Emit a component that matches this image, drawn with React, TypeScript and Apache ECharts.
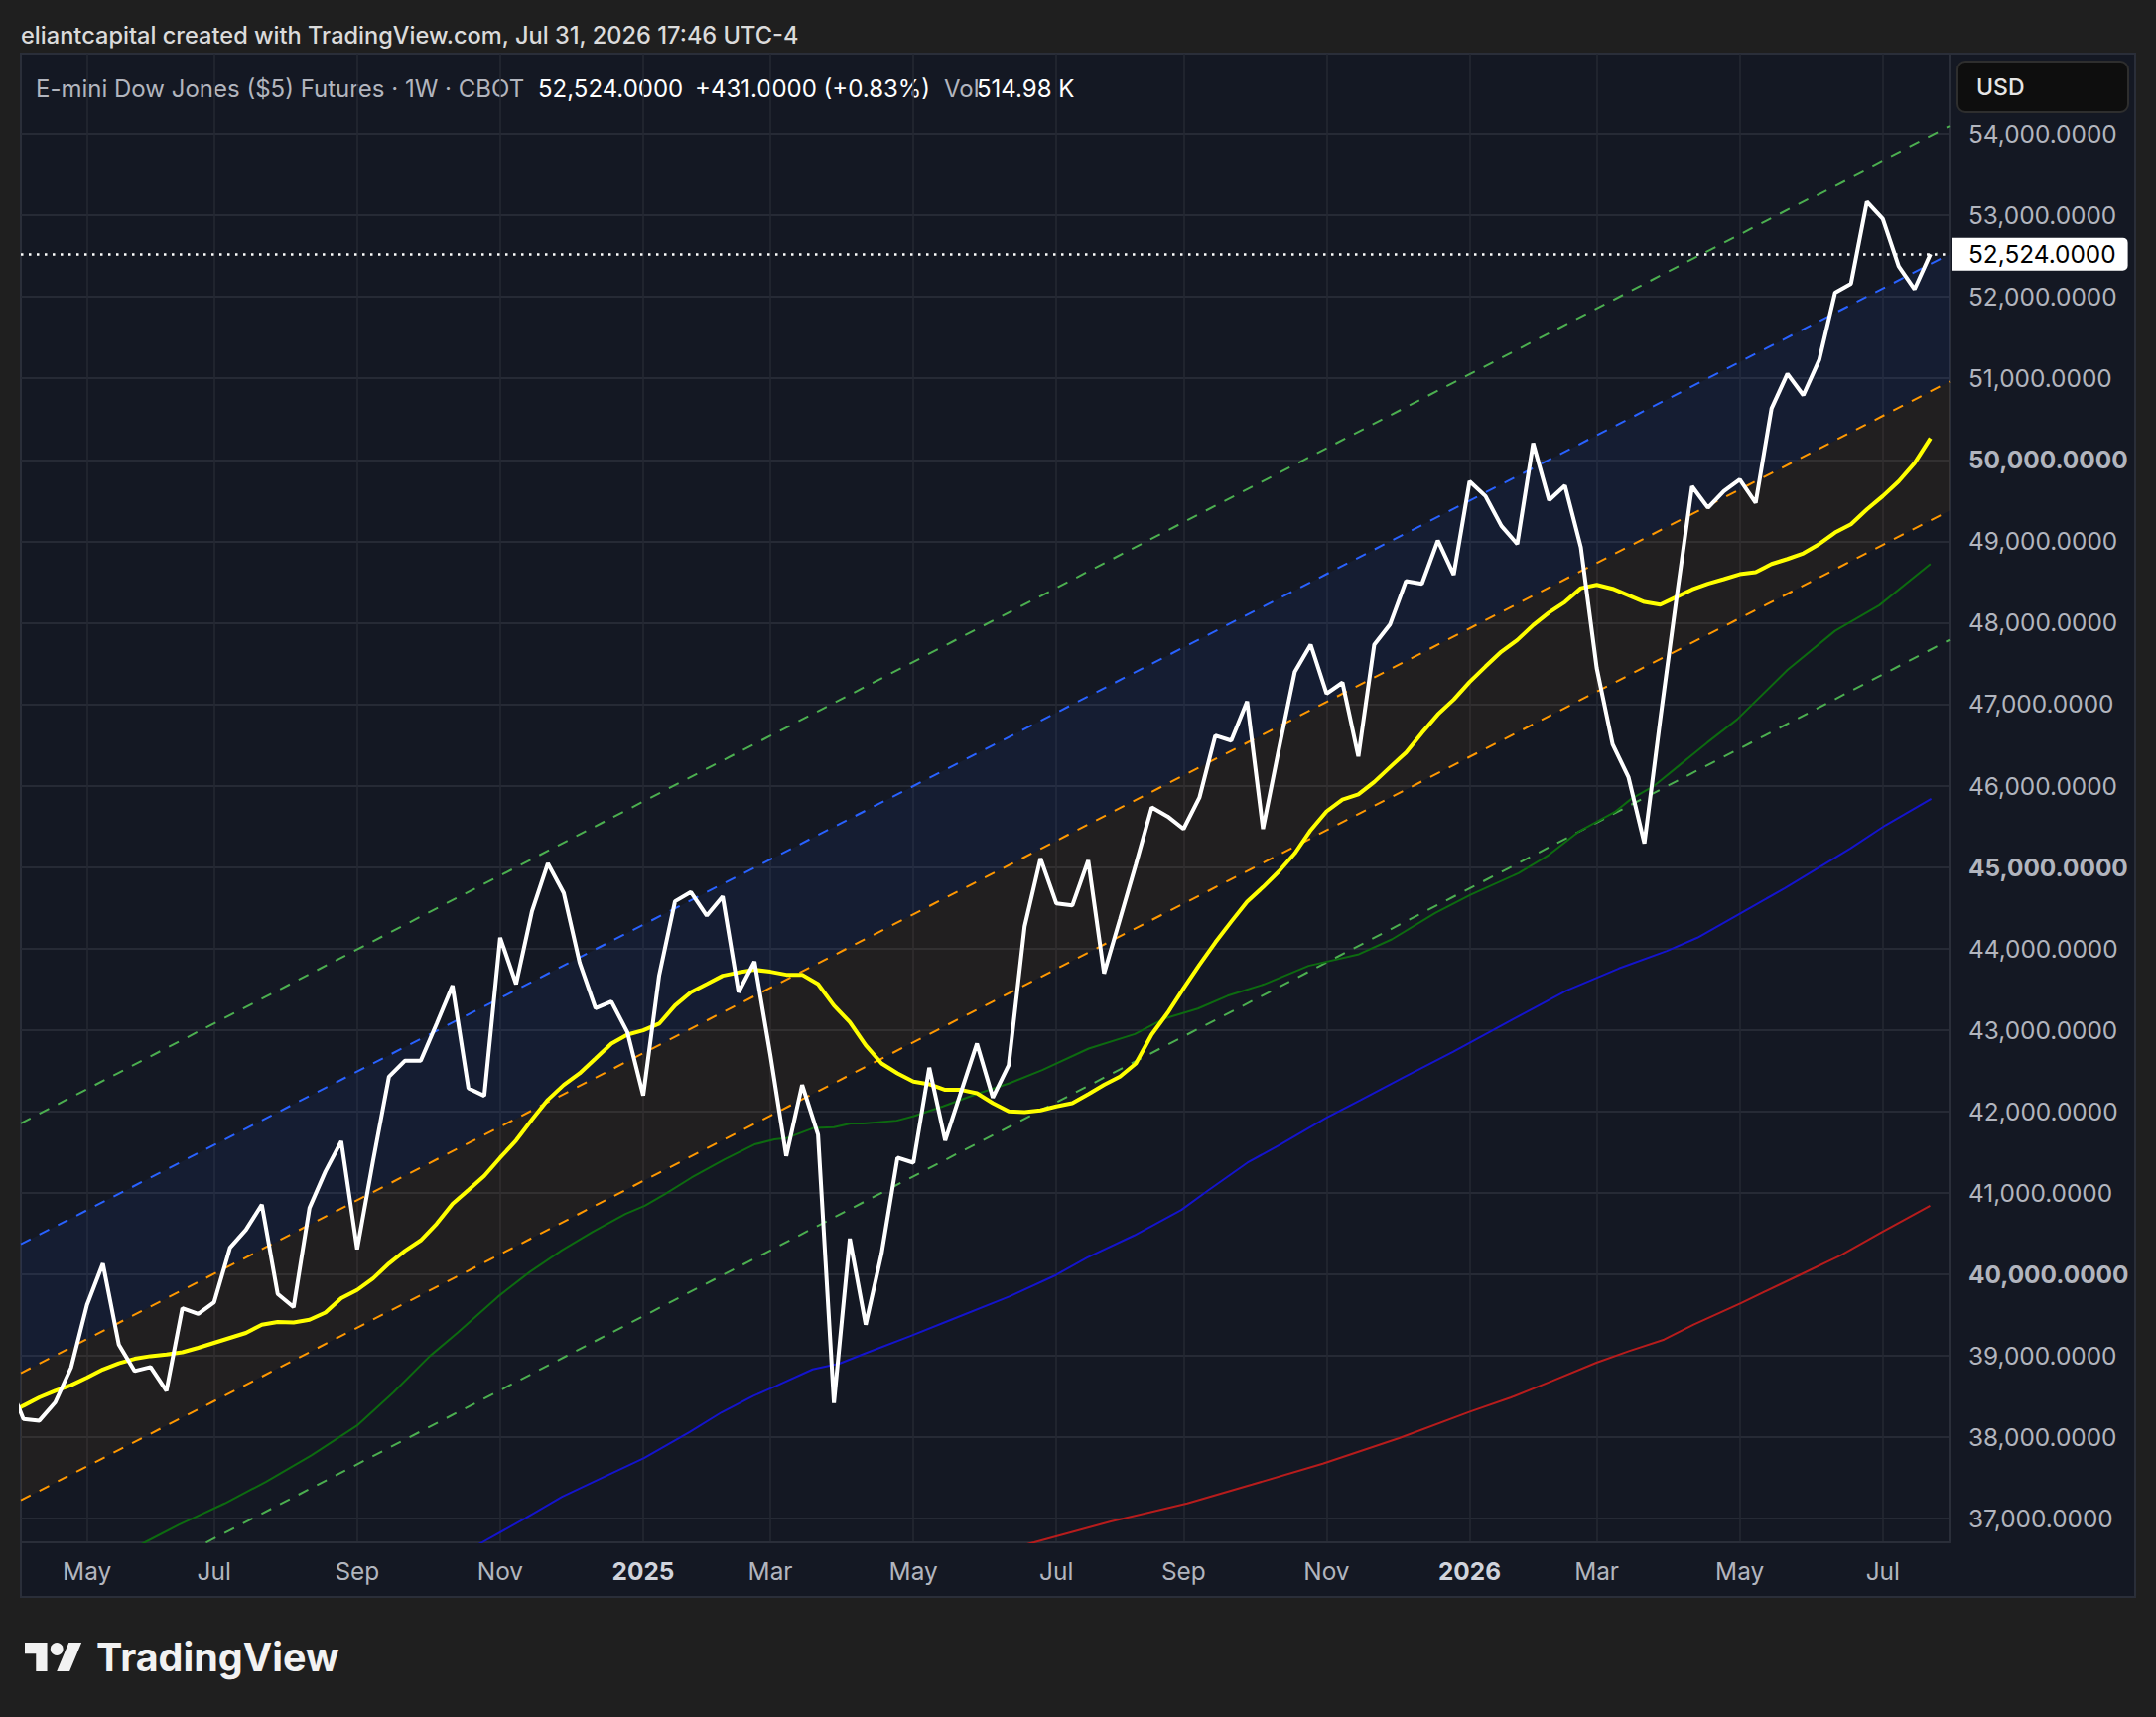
import React, { useEffect, useRef } from "react";
import * as echarts from "echarts";

// ---------- data (weeks counted from the weekly bar of 2024-04-01) ----------
const xTickWeeks = [5, 13, 22, 31, 40, 48, 57, 66, 74, 83, 92, 100, 109, 118];
const xTickLabels = ["May", "Jul", "Sep", "Nov", "2025", "Mar", "May", "Jul", "Sep", "Nov", "2026", "Mar", "May", "Jul"];
const yTicks = [37000, 38000, 39000, 40000, 41000, 42000, 43000, 44000, 45000, 46000, 47000, 48000, 49000, 50000, 51000, 52000, 53000, 54000];
const yBoldTicks = [40000, 45000, 50000];

const X_MIN = 0.837;
const X_MAX = 122.2;
const Y_MIN = 36710;
const Y_MAX = 54987;

// weekly closes
const closes = [
  38700, 38225, 38204, 38428, 38854, 39625, 40133, 39138, 38813, 38862,
  38569, 39585, 39515, 39658, 40328, 40547, 40856, 39759, 39597, 40815,
  41262, 41635, 40308, 41392, 42427, 42622, 42622, 43077, 43544, 42285,
  42192, 44133, 43564, 44458, 45046, 44681, 43828, 43268, 43349, 42975,
  42196, 43666, 44580, 44693, 44404, 44640, 43463, 43840, 42691, 41453,
  42326, 41717, 38420, 40438, 39382, 40255, 41432, 41371, 42537, 41644,
  42241, 42833, 42171, 42570, 44270, 45107, 44553, 44529, 45083, 43694,
  44359, 45034, 45732, 45621, 45468, 45853, 46614, 46552, 47033, 45468,
  46450, 47396, 47731, 47129, 47265, 46358, 47731, 47982, 48512, 48478,
  49008, 48589, 49736, 49554, 49189, 48965, 50203, 49505, 49684, 48924,
  47442, 46508, 46102, 45290, 46813, 48274, 49675, 49411, 49614, 49757,
  49472, 50630, 51056, 50792, 51226, 52051, 52161, 53168, 52956, 52376,
  52093, 52524,
];
const LAST_PRICE = 52524;

// yellow moving average (weekly)
const maYellow = [
  38280, 38387, 38489, 38569, 38640, 38732, 38833, 38907, 38963, 38996,
  39016, 39044, 39098, 39159, 39220, 39281, 39382, 39415, 39410, 39442,
  39531, 39707, 39808, 39950, 40133, 40287, 40417, 40620, 40864, 41035,
  41209, 41432, 41644, 41900, 42143, 42326, 42468, 42650, 42833, 42942,
  42996, 43077, 43300, 43463, 43564, 43666, 43706, 43739, 43715, 43678,
  43678, 43564, 43300, 43097, 42813, 42589, 42468, 42366, 42334, 42265,
  42265, 42224, 42102, 42001, 41993, 42013, 42062, 42102, 42212, 42326,
  42427, 42589, 42945, 43210, 43510, 43800, 44075, 44330, 44576, 44754,
  44947, 45169, 45453, 45684, 45828, 45892, 46045, 46228, 46407, 46648,
  46874, 47056, 47272, 47462, 47645, 47787, 47970, 48125, 48254, 48424,
  48465, 48417, 48335, 48254, 48222, 48315, 48408, 48478, 48535, 48595,
  48620, 48721, 48782, 48851, 48965, 49107, 49209, 49391, 49554, 49736,
  49959, 50264,
];

// [week, value]
const maGreen = [
  [6, 36420], [8.64, 36710], [10.8, 36927], [13.67, 37188], [16.25, 37453], [19.12, 37777],
  [21.99, 38143], [24.28, 38549], [26.57, 38996], [28.3, 39281], [30.87, 39727], [32.88, 40032],
  [34.89, 40296], [36.8, 40518], [38.88, 40742], [40.1, 40843], [41.37, 40986], [43.04, 41188],
  [45.12, 41412], [47, 41595], [48.25, 41656], [49.08, 41676], [50.74, 41798], [52, 41806],
  [53.04, 41851], [53.87, 41851], [55.95, 41887], [56.99, 41940], [58.86, 42062], [60.94, 42212],
  [63.03, 42346], [65.11, 42508], [68.03, 42772], [70.94, 42950], [72.81, 43141], [74.9, 43262],
  [76.77, 43420], [79.06, 43560], [81.87, 43788], [85.04, 43930], [87.1, 44112], [89.84, 44437],
  [92.05, 44660], [95.07, 44924], [96.97, 45147], [98.84, 45432], [101.13, 45676], [102.17, 45838],
  [103.63, 46000], [105.29, 46264], [106.96, 46529], [108.83, 46813], [112, 47420], [115, 47900],
  [117.78, 48214], [121, 48721],
];
const maBlue = [
  [27, 36400], [29.87, 36710], [32.59, 37006], [34.89, 37270], [37.76, 37534], [40.05, 37745],
  [42.92, 38063], [44.93, 38306], [46.94, 38509], [48.37, 38630], [50.66, 38833], [52.38, 38906],
  [54.07, 39037], [56.78, 39240], [59.49, 39451], [63.03, 39727], [65.97, 39991], [67.93, 40206],
  [70.9, 40478], [73.86, 40790], [75.52, 41026], [78.02, 41371], [80.1, 41595], [82.97, 41920],
  [85.17, 42143], [87.92, 42427], [90.95, 42732], [94.8, 43138], [98.09, 43483], [101.39, 43755],
  [104.42, 43970], [106.34, 44133], [109.09, 44437], [111.84, 44742], [115.96, 45229], [118.17, 45513],
  [121.05, 45838],
];
const maRed = [
  [60, 36470], [64.6, 36710], [69.42, 36965], [74.24, 37188], [78.31, 37420], [82.76, 37676],
  [87.57, 37989], [92.02, 38314], [94.61, 38489], [97.2, 38691], [99.98, 38915], [102.02, 39057],
  [104.24, 39199], [106.1, 39382], [109.06, 39646], [112.76, 39991], [115.35, 40234], [117.95, 40518],
  [120.98, 40843],
];

// regression channel lines: [[week, value], [week, value]]
const chanGreenUpper = [[0.837, 41854], [122.2, 54096]];
const chanBlueUpper = [[0.837, 40371], [122.2, 52523]];
const chanOrangeUpper = [[0.837, 38787], [122.2, 50960]];
const chanOrangeLower = [[0.837, 37226], [122.2, 49376]];
const chanGreenLower = [[0.837, 35530], [122.2, 47789]];

// ---------- styling ----------
const FONT = "Inter, 'Noto Sans', Roboto, sans-serif";
const AXIS_TEXT = "#b2b5be";
const AXIS_FS = 24.4;
const LEGEND_FS = 24;

echarts.graphic.registerShape(
  "tvlogo",
  echarts.graphic.extendPath("M14 22H7V11H0V4h14v18zM28 22h-8l7.5-18h8L28 22z", {})
);

function fmtPrice(v: number) {
  return v.toLocaleString("en-US", { minimumFractionDigits: 4, maximumFractionDigits: 4 });
}

function bandSeries(top: number[][], bottom: number[][], fill: string) {
  return {
    type: "custom",
    silent: true,
    z: 1,
    data: [[X_MIN, Y_MIN]],
    renderItem: (_params: any, api: any) => {
      const pts = [
        api.coord(top[0]),
        api.coord(top[1]),
        api.coord(bottom[1]),
        api.coord(bottom[0]),
      ];
      return { type: "polygon", shape: { points: pts }, style: { fill } };
    },
  };
}

function dashed(data: number[][], color: string) {
  return {
    type: "line",
    data,
    showSymbol: false,
    silent: true,
    z: 2,
    lineStyle: { color, width: 2, type: [11, 10] },
  };
}

function maLine(data: number[][], color: string, width: number, z: number) {
  return {
    type: "line",
    data,
    showSymbol: false,
    silent: true,
    z,
    lineStyle: { color, width },
  };
}

function buildOption() {
  return {
    animation: false,
    backgroundColor: "#1f1f1f",
    textStyle: { fontFamily: FONT },
    grid: { left: 21, right: 208, top: 54, bottom: 176, containLabel: false, outerBoundsMode: "none" },
    xAxis: {
      type: "value",
      min: X_MIN,
      max: X_MAX,
      axisLine: { show: true, lineStyle: { color: "#2a2e39", width: 2 } },
      axisTick: { show: false, customValues: xTickWeeks },
      axisLabel: {
        customValues: xTickWeeks,
        margin: 17,
        color: AXIS_TEXT,
        fontSize: AXIS_FS,
        fontFamily: FONT,
        formatter: (v: number) => {
          const i = xTickWeeks.indexOf(Math.round(v));
          const s = i >= 0 ? xTickLabels[i] : "";
          return /^\d+$/.test(s) ? "{y|" + s + "}" : s;
        },
        rich: { y: { fontWeight: "bold", color: "#d1d4dc", fontSize: AXIS_FS, fontFamily: FONT } },
      },
      splitLine: { show: true, lineStyle: { color: "#242833", width: 1.5 } },
    },
    yAxis: {
      type: "value",
      position: "right",
      min: Y_MIN,
      max: Y_MAX,
      axisLine: { show: true, lineStyle: { color: "#2a2e39", width: 2 } },
      axisTick: { show: false, customValues: yTicks },
      axisLabel: {
        customValues: yTicks,
        margin: 19,
        color: AXIS_TEXT,
        fontSize: AXIS_FS,
        fontFamily: FONT,
        formatter: (v: number) => {
          const s = fmtPrice(v);
          return yBoldTicks.indexOf(v) >= 0 ? "{b|" + s + "}" : s;
        },
        rich: { b: { fontWeight: "bold", color: AXIS_TEXT, fontSize: AXIS_FS, fontFamily: FONT } },
      },
      splitLine: { show: true, lineStyle: { color: "#262a35", width: 2 } },
    },
    graphic: [
      {
        type: "rect",
        z: -10,
        silent: true,
        shape: { x: 21, y: 54, width: 2130, height: 1555 },
        style: { fill: "#141823", stroke: "#2a2e39", lineWidth: 2 },
      },
      {
        type: "text",
        x: 21,
        y: 35,
        style: {
          text: "eliantcapital created with TradingView.com, Jul 31, 2026 17:46 UTC-4",
          fill: "#dbdbdb",
          font: "500 23.6px " + FONT,
          verticalAlign: "middle",
        },
      },
      { type: "text", x: 36, y: 89, style: { text: "E-mini Dow Jones ($5) Futures · 1W · CBOT", fill: AXIS_TEXT, font: LEGEND_FS + "px " + FONT, verticalAlign: "middle" } },
      { type: "text", x: 542, y: 89, style: { text: "52,524.0000", fill: "#ffffff", font: LEGEND_FS + "px " + FONT, verticalAlign: "middle" } },
      { type: "text", x: 700, y: 89, style: { text: "+431.0000 (+0.83%)", fill: "#ffffff", font: LEGEND_FS + "px " + FONT, verticalAlign: "middle" } },
      { type: "text", x: 951, y: 89, style: { text: "Vol", fill: AXIS_TEXT, font: LEGEND_FS + "px " + FONT, verticalAlign: "middle" } },
      { type: "text", x: 984, y: 89, style: { text: "514.98 K", fill: "#ffffff", font: LEGEND_FS + "px " + FONT, verticalAlign: "middle" } },
      {
        type: "rect",
        shape: { x: 1972, y: 62, width: 172, height: 51, r: 8 },
        style: { fill: "#0e0e0e", stroke: "#2e2e2e", lineWidth: 2 },
      },
      { type: "text", x: 1991, y: 88, style: { text: "USD", fill: "#e6e6e6", font: "500 23px " + FONT, verticalAlign: "middle" } },
      { type: "tvlogo", x: 25, y: 1648.6, scaleX: 1.61, scaleY: 1.61, style: { fill: "#f2f2f2" } },
      { type: "circle", shape: { cx: 57.2, cy: 1661.5, r: 6.4 }, style: { fill: "#f2f2f2" } },
      { type: "text", x: 97, y: 1670, style: { text: "TradingView", fill: "#f2f2f2", font: "bold 39.5px " + FONT, verticalAlign: "middle" } },
    ],
    series: [
      bandSeries(chanBlueUpper, chanOrangeUpper, "rgba(41,98,255,0.07)"),
      bandSeries(chanOrangeUpper, chanOrangeLower, "rgba(255,152,0,0.06)"),
      dashed(chanGreenUpper, "#4caf50"),
      dashed(chanBlueUpper, "#2962ff"),
      dashed(chanOrangeUpper, "#ff9800"),
      dashed(chanOrangeLower, "#ff9800"),
      dashed(chanGreenLower, "#4caf50"),
      maLine(maRed, "#b71c1c", 2, 3),
      maLine(maBlue, "#1414cc", 2, 3),
      maLine(maGreen, "#0d6b10", 2, 3),
      maLine(maYellow.map((v, i) => [i, v]), "#ffff00", 4, 4),
      {
        type: "line",
        data: closes.map((v, i) => [i, v]),
        showSymbol: false,
        z: 5,
        lineStyle: { color: "#ffffff", width: 4 },
        markLine: {
          silent: true,
          symbol: "none",
          animation: false,
          data: [{ yAxis: LAST_PRICE }],
          lineStyle: { color: "#ffffff", width: 2.5, type: [2.5, 5.5] },
          label: {
            show: true,
            position: "end",
            distance: 2,
            formatter: () => fmtPrice(LAST_PRICE),
            color: "#000000",
            backgroundColor: "#ffffff",
            fontSize: AXIS_FS,
            fontFamily: FONT,
            lineHeight: 24,
            padding: [5, 12, 4, 17],
            borderRadius: [0, 5, 5, 0],
          },
        },
      },
    ],
  };
}

export default function App() {
  const ref = useRef<HTMLDivElement>(null);
  useEffect(() => {
    if (!ref.current) return;
    const chart = echarts.init(ref.current, undefined, { renderer: "svg" });
    chart.setOption(buildOption() as any);
    return () => chart.dispose();
  }, []);
  return (
    <div
      ref={ref}
      style={{ position: "absolute", left: 0, top: 0, width: 2172, height: 1730 }}
    />
  );
}
